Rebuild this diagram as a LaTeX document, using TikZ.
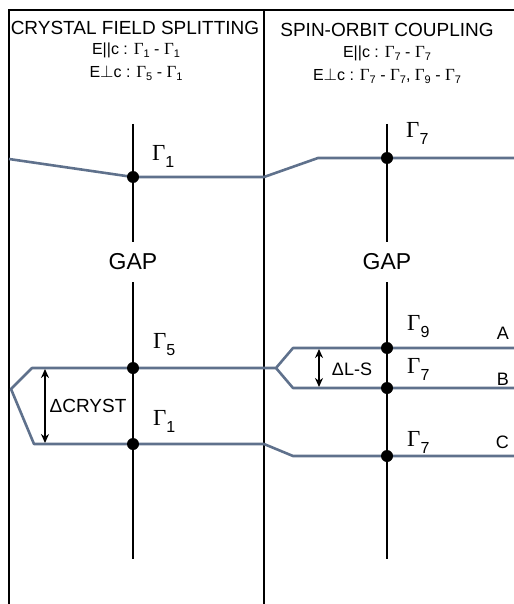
\documentclass[tikz,border=0pt]{standalone}
\usepackage{fontspec}
\setmainfont{Liberation Sans}
\newfontfamily\gamfont{Liberation Serif}
\usetikzlibrary{arrows.meta}

\definecolor{levelgray}{RGB}{95,113,140}

% Gamma with subscript, large (levels) and small (headers)
\newcommand{\levGam}[1]{{\gamfont\fontsize{23bp}{25bp}\selectfont Γ}\raisebox{-7bp}{\fontsize{16bp}{18bp}\selectfont #1}}
\newcommand{\headGam}[1]{{\gamfont\fontsize{17bp}{19bp}\selectfont Γ}\raisebox{-3bp}{\fontsize{11bp}{13bp}\selectfont #1}}

\begin{document}
\begin{tikzpicture}[
    x=1bp, y=-1bp,
    bandFrameStyle/.style={black, line width=2.2bp},
    bandAxisStyle/.style={black, line width=2.6bp},
    bandLevelStyle/.style={levelgray, line width=2.6bp, line join=round},
    bandDotStyle/.style={circle, fill=black, inner sep=0pt, minimum size=12bp},
    bandLabelStyle/.style={anchor=base west, inner sep=0pt},
    bandHeadStyle/.style={inner sep=0pt, font=\fontsize{19bp}{21bp}\selectfont},
    bandSubStyle/.style={inner sep=0pt, font=\fontsize{16bp}{18bp}\selectfont},
    bandGapStyle/.style={inner sep=0pt, minimum height=40bp, font=\fontsize{23bp}{25bp}\selectfont},
    bandLetterStyle/.style={anchor=base east, inner sep=0pt, font=\fontsize{18bp}{20bp}\selectfont},
    >={Stealth[length=9bp, width=8bp]}
]
    \useasboundingbox (0,0) rectangle (514,604);

    % frame
    \draw[bandFrameStyle] (9,604) -- (9,10) -- (514,10);
    \draw[bandFrameStyle] (264,10) -- (264,604);

    % headers
    \node[bandHeadStyle] (cfTitle) at (135,28) {CRYSTAL FIELD SPLITTING};
    \node[bandSubStyle] (cfPar) at (136,50) {E||c : \headGam{1} - \headGam{1}};
    \node[bandSubStyle] (cfPerp) at (136,73) {E$\perp$c : \headGam{5} - \headGam{1}};
    \node[bandHeadStyle] (soTitle) at (387,30) {SPIN-ORBIT COUPLING};
    \node[bandSubStyle] (soPar) at (387,53) {E||c : \headGam{7} - \headGam{7}};
    \node[bandSubStyle] (soPerp) at (387,76) {E$\perp$c : \headGam{7} - \headGam{7}, \headGam{9} - \headGam{7}};

    % axes with gap
    \coordinate (lAxTop) at (133,124);
    \coordinate (lAxBot) at (133,559);
    \node[bandGapStyle] (lGap) at (133,262) {GAP};
    \draw[bandAxisStyle] (lAxTop) -- (lGap) -- (lAxBot);
    \coordinate (rAxTop) at (387,124);
    \coordinate (rAxBot) at (387,559);
    \node[bandGapStyle] (rGap) at (387,262) {GAP};
    \draw[bandAxisStyle] (rAxTop) -- (rGap) -- (rAxBot);

    % level positions
    \coordinate (lEdgeC) at (9,159);
    \coordinate (midC) at (264,177);
    \coordinate (rKinkC) at (318,158);
    \coordinate (rEndC) at (514,158);
    \coordinate (lFork) at (11,389);
    \coordinate (lKinkA) at (32,368);
    \coordinate (lKinkB) at (34,444);
    \coordinate (midA) at (264,368);
    \coordinate (midB) at (264,444);
    \coordinate (rStub) at (276,368);
    \coordinate (rKinkA) at (293,348);
    \coordinate (rKinkB) at (293,388);
    \coordinate (rKinkD) at (293,456);
    \coordinate (rEndA) at (514,348);
    \coordinate (rEndB) at (514,388);
    \coordinate (rEndD) at (514,456);
    \coordinate (lDotC) at (133,177);
    \coordinate (rDotC) at (387,158);
    \coordinate (lDotA) at (133,368);
    \coordinate (lDotB) at (133,444);
    \coordinate (rDotA) at (387,348);
    \coordinate (rDotB) at (387,388);
    \coordinate (rDotD) at (387,456);

    % conduction band
    \draw[bandLevelStyle] (lEdgeC) -- (lDotC) -- (midC) -- (rKinkC) -- (rDotC) -- (rEndC);

    % crystal field splitting
    \draw[bandLevelStyle] (midA) -- (lDotA) -- (lKinkA) -- (lFork) -- (lKinkB) -- (lDotB) -- (midB);

    % spin-orbit coupling
    \draw[bandLevelStyle] (midA) -- (rStub) -- (rKinkA) -- (rDotA) -- (rEndA);
    \draw[bandLevelStyle] (rStub) -- (rKinkB) -- (rDotB) -- (rEndB);
    \draw[bandLevelStyle] (midB) -- (rKinkD) -- (rDotD) -- (rEndD);

    % dots
    \foreach \d in {lDotC, rDotC, lDotA, lDotB, rDotA, rDotB, rDotD}
        \node[bandDotStyle] (\d Mark) at (\d) {};

    % splitting arrows
    \coordinate (crTop) at (45,369);
    \coordinate (crBot) at (45,443);
    \draw[<->, line width=2bp] (crTop) -- (crBot);
    \node[inner sep=0pt, font=\fontsize{19bp}{21bp}\selectfont] (crLabel) at (88,406) {ΔCRYST};
    \coordinate (lsTop) at (319,349);
    \coordinate (lsBot) at (319,387);
    \draw[<->, line width=2bp] (lsTop) -- (lsBot);
    \node[inner sep=0pt, font=\fontsize{18bp}{20bp}\selectfont] (lsLabel) at (352,369) {ΔL-S};

    % level labels
    \node[bandLabelStyle] (lLabC) at (152,161) {\levGam{1}};
    \node[bandLabelStyle] (lLabA) at (153,348) {\levGam{5}};
    \node[bandLabelStyle] (lLabB) at (153,425) {\levGam{1}};
    \node[bandLabelStyle] (rLabC) at (406,138) {\levGam{7}};
    \node[bandLabelStyle] (rLabA) at (407,330) {\levGam{9}};
    \node[bandLabelStyle] (rLabB) at (407,373) {\levGam{7}};
    \node[bandLabelStyle] (rLabD) at (407,446) {\levGam{7}};
    \node[bandLetterStyle] (letA) at (509,339) {A};
    \node[bandLetterStyle] (letB) at (509,385) {B};
    \node[bandLetterStyle] (letD) at (509,448) {C};
\end{tikzpicture}
\end{document}
